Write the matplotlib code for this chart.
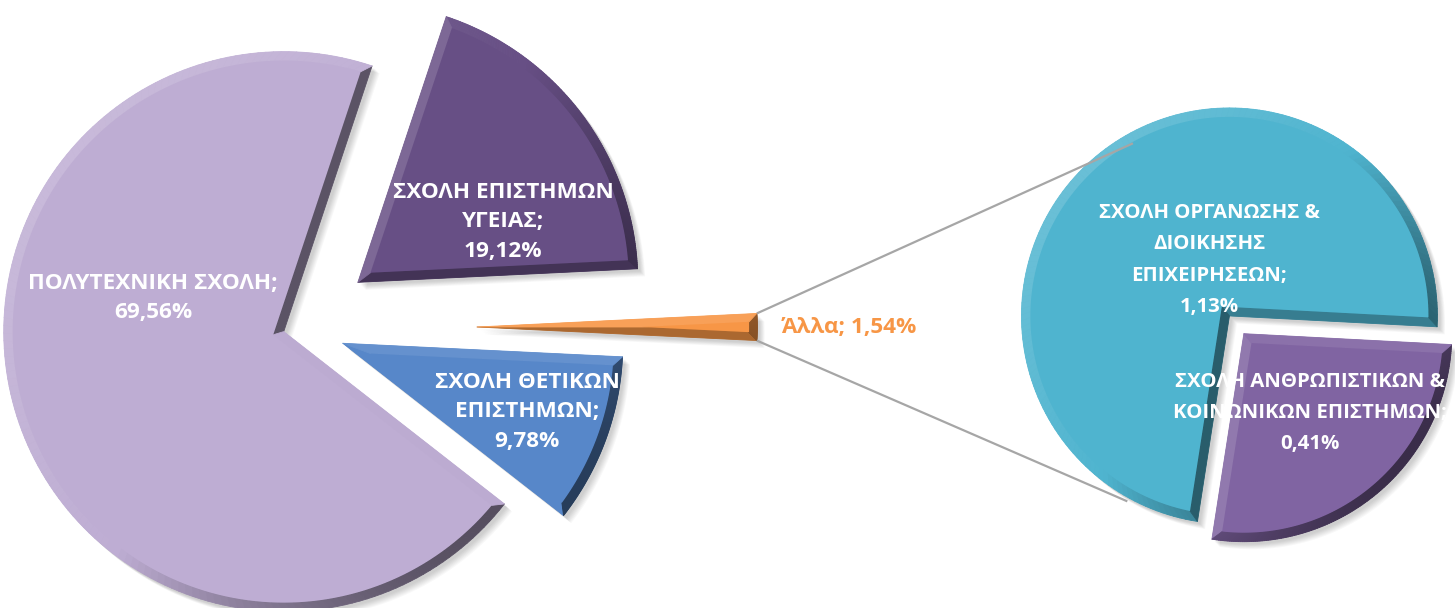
import numpy as np
import matplotlib
matplotlib.use("Agg")
import matplotlib.pyplot as plt
from matplotlib.patches import Polygon
from matplotlib.collections import PolyCollection
import matplotlib.colors as mcolors

# ---------------- data ----------------
main_names = ["Άλλα", "ΣΧΟΛΗ ΘΕΤΙΚΩΝ\nΕΠΙΣΤΗΜΩΝ", "ΠΟΛΥΤΕΧΝΙΚΗ ΣΧΟΛΗ", "ΣΧΟΛΗ ΕΠΙΣΤΗΜΩΝ\nΥΓΕΙΑΣ"]
main_values = [1.54, 9.78, 69.56, 19.12]
main_colors = ["#F79646", "#5787C9", "#BEADD3", "#674F85"]

sub_names = ["ΣΧΟΛΗ ΑΝΘΡΩΠΙΣΤΙΚΩΝ &\nΚΟΙΝΩΝΙΚΩΝ ΕΠΙΣΤΗΜΩΝ", "ΣΧΟΛΗ ΟΡΓΑΝΩΣΗΣ &\nΔΙΟΙΚΗΣΗΣ\nΕΠΙΧΕΙΡΗΣΕΩΝ"]
sub_values = [0.41, 1.13]
sub_colors = ["#8064A2", "#4FB4CF"]

# ---------------- layout ----------------
W, H = 1455, 608
fig = plt.figure(figsize=(W / 100, H / 100), dpi=100)
ax = fig.add_axes([0, 0, 1, 1])
ax.set_xlim(0, W)
ax.set_ylim(0, H)
ax.set_aspect("equal")
ax.axis("off")

FONT = ["Open Sans", "DejaVu Sans"]
LIGHT = np.array([-0.8, 0.6])


def fmt(v):
    return f"{v:.2f}".replace(".", ",") + "%"


def wedge_geom(center, r, t1, t2, b, n=160):
    A = np.asarray(center, float)
    s = np.radians(t2 - t1)
    mid = np.radians((t1 + t2) / 2)
    th = np.radians(np.linspace(t1, t2, n))
    outer = np.vstack([A, A + r * np.c_[np.cos(th), np.sin(th)]])
    Ap = A + b / np.sin(s / 2) * np.array([np.cos(mid), np.sin(mid)])
    Rp = r - b

    def hit(theta_deg):
        t = np.radians(theta_deg)
        e = np.array([np.cos(t), np.sin(t)])
        w = Ap - A
        we = w @ e
        tt = -we + np.sqrt(max(we * we - w @ w + Rp * Rp, 0))
        p = Ap + tt * e - A
        ang = np.arctan2(p[1], p[0])
        return t + (ang - t + np.pi) % (2 * np.pi) - np.pi

    p1, p2 = hit(t1), hit(t2)
    ph = np.linspace(p1, p2, n)
    inner = np.vstack([Ap, A + Rp * np.c_[np.cos(ph), np.sin(ph)]])
    return outer, inner


def shade(base, normal):
    rgb = np.array(mcolors.to_rgb(base))
    L = LIGHT / np.linalg.norm(LIGHT)
    d = float(normal @ L)
    if d >= 0:
        return tuple(rgb + (1 - rgb) * 0.15 * d)
    return tuple(rgb * (1 - 0.55 * (-d)))


def draw_pie(values, center, r, start, explode, colors, bevel):
    total = sum(values)
    cum = np.concatenate([[0], np.cumsum(values)]) / total * 360
    geoms = []
    for i, v in enumerate(values):
        t2 = start - cum[i]
        t1 = start - cum[i + 1]
        mid = np.radians((t1 + t2) / 2)
        c = np.array(center) + explode[i] * r * np.array([np.cos(mid), np.sin(mid)])
        geoms.append((c, t1, t2, wedge_geom(c, r, t1, t2, bevel[i])))
    # soft shadows
    for c, t1, t2, (outer, inner) in geoms:
        for k in range(1, 8):
            ax.add_patch(Polygon(outer + np.array([2 + 0.8 * k, -(2 + 0.8 * k)]),
                                 closed=True, facecolor="black", edgecolor="none",
                                 alpha=0.028, zorder=2))
    # slices with bevel
    for (c, t1, t2, (outer, inner)), col in zip(geoms, colors):
        ax.add_patch(Polygon(outer, closed=True, facecolor=col, edgecolor="none", zorder=3))
        quads, qcols = [], []
        m = len(outer)
        for i in range(m):
            j = (i + 1) % m
            d = outer[j] - outer[i]
            nrm = np.array([d[1], -d[0]])
            ln = np.linalg.norm(nrm)
            if ln == 0:
                continue
            nrm = nrm / ln
            quads.append([outer[i], outer[j], inner[j], inner[i]])
            qcols.append(shade(col, nrm))
        ax.add_collection(PolyCollection(quads, facecolors=qcols, edgecolors=qcols,
                                         linewidths=0.6, zorder=4))
        ax.add_patch(Polygon(inner, closed=True, facecolor=col, edgecolor="none", zorder=5))
    return geoms


# main pie: "other" slice centred on 0 degrees, clockwise order
R1 = 280
C1 = (299, H - 327)
start1 = 360 * main_values[0] / sum(main_values) / 2
main_geoms = draw_pie(main_values, C1, R1, start1, [0.636, 0.167, 0.057, 0.264],
                      main_colors, [8, 9, 9, 9])

# second pie
R2 = 208
C2 = (1236, H - 324)
sub_geoms = draw_pie(sub_values, C2, R2, -3, [0.06, 0.05], sub_colors, [9, 9])

# connector lines from the outer corners of the "other" slice
oc, ot1, ot2, _ = main_geoms[0]
for t_o, t_s in [(ot2, 119.7), (ot1, -121.5)]:
    p0 = oc + R1 * np.array([np.cos(np.radians(t_o)), np.sin(np.radians(t_o))])
    p1 = np.array(C2) + R2 * np.array([np.cos(np.radians(t_s)), np.sin(np.radians(t_s))])
    ax.plot([p0[0], p1[0]], [p0[1], p1[1]], color="#A6A6A6", lw=1.6, zorder=5.5,
            solid_capstyle="butt")

# labels (positions in image pixels)
main_label_pos = [(849, 327), (527, 412), (153, 298), (503, 222)]
sub_label_pos = [(1209, 260), (1310, 413)][::-1]

for name, v, (x, y) in zip(main_names, main_values, main_label_pos):
    if name == "Άλλα":
        ax.text(x, H - y, f"{name}; {fmt(v)}", color="#F79646", fontsize=16.2,
                fontweight="bold", family=FONT, ha="center", va="center", zorder=6)
    else:
        ax.text(x, H - y, f"{name};\n{fmt(v)}", color="white", fontsize=16.2,
                fontweight="bold", family=FONT, ha="center", va="center",
                linespacing=1.52, zorder=6)

for name, v, (x, y) in zip(sub_names, sub_values, sub_label_pos):
    ax.text(x, H - y, f"{name};\n{fmt(v)}", color="white", fontsize=14.7,
            fontweight="bold", family=FONT, ha="center", va="center",
            linespacing=1.74, zorder=6)

fig.savefig("out.png", dpi=100)
